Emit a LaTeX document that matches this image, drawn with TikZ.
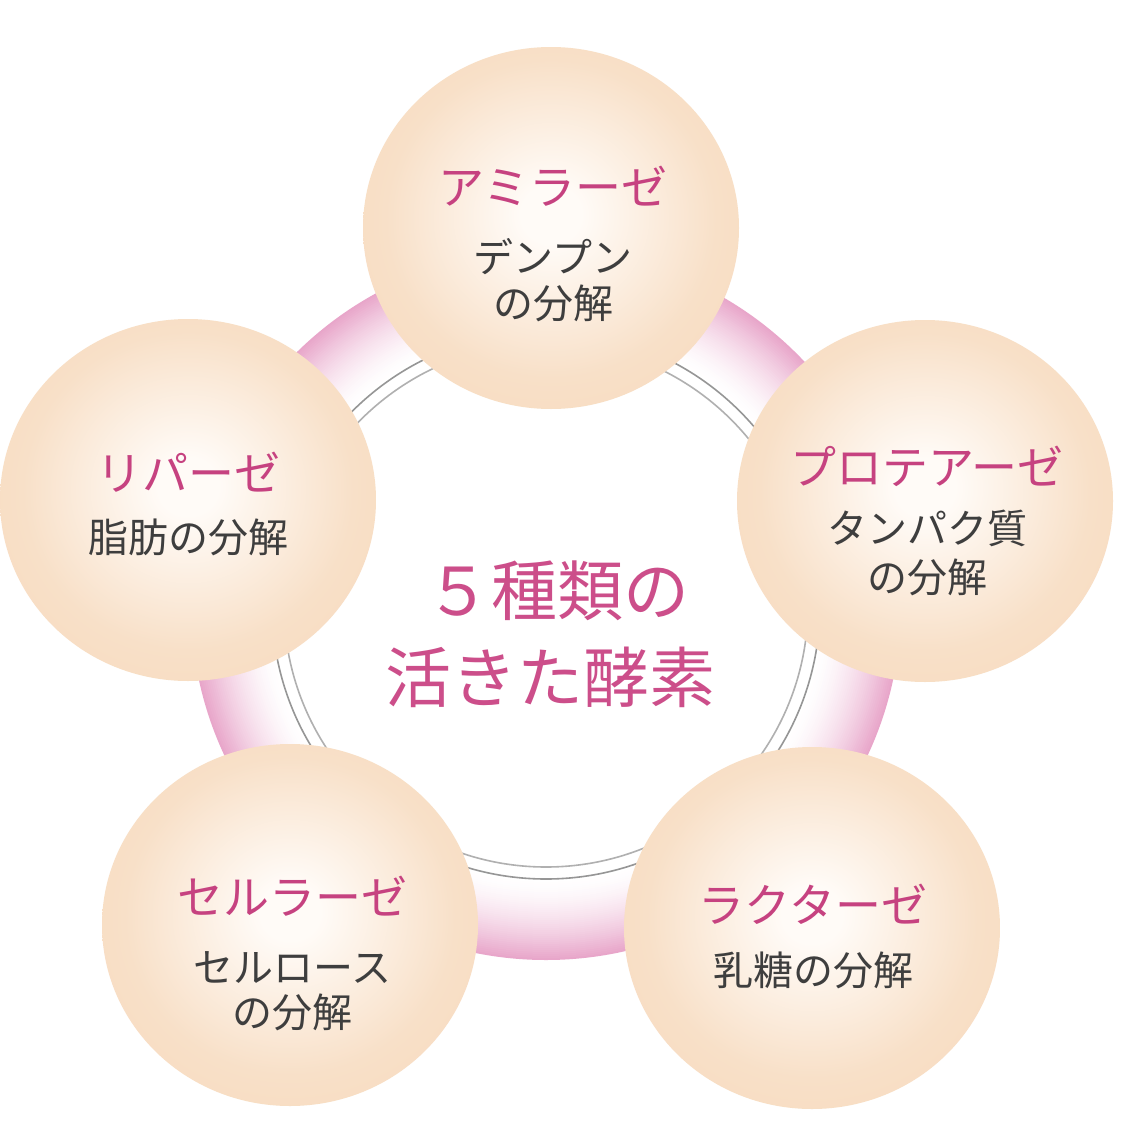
\documentclass[tikz,border=0pt]{standalone}
\usepackage{fontspec}
\newfontfamily\jp{Noto Sans CJK JP}
\usetikzlibrary{shapes.geometric}
\definecolor{peachedge}{RGB}{245,212,178}
\definecolor{peachmid}{RGB}{248,224,200}
\definecolor{peachcore}{RGB}{255,251,247}
\definecolor{ringpink}{RGB}{232,166,202}
\definecolor{titlepink}{RGB}{198,66,128}
\definecolor{centerpink}{RGB}{204,78,138}
\definecolor{bodygray}{RGB}{62,62,62}
\definecolor{ringgray}{RGB}{150,150,150}
\pgfdeclareradialshading{ball}{\pgfpoint{0bp}{2bp}}{color(0bp)=(peachcore); color(4bp)=(peachcore); color(22bp)=(peachmid); color(46bp)=(peachedge); color(60bp)=(peachedge)}
\tikzset{
  ballnode/.style={ellipse, minimum width=376pt, minimum height=362pt, inner sep=0pt, shade, shading=ball},
  titletext/.style={anchor=base, inner sep=0pt, text=titlepink, font=\jp\fontsize{46pt}{52pt}\selectfont},
  bodytext/.style={anchor=base, inner sep=0pt, text=bodygray, font=\jp\fontsize{40pt}{46pt}\selectfont},
  centertext/.style={anchor=base, inner sep=0pt, text=centerpink, font=\jp\fontsize{66pt}{80pt}\selectfont},
  grayline/.style={draw=ringgray, line width=1.6pt}
}
\begin{document}
\begin{tikzpicture}[x=1pt, y=-1pt]
\useasboundingbox[fill=white] (0,0) rectangle (1125,1143);
% ring: pink band fading inward
\coordinate (rc) at (546,605);
\foreach \i in {0,...,40} {
  \pgfmathsetmacro\rr{355-2*\i}
  \pgfmathsetmacro\pp{100*((40-\i)/40)^1.6}
  \fill[ringpink!\pp!white] (rc) circle[radius=\rr pt];
}
\fill[white] (rc) circle[radius=274pt];
\draw[grayline] (rc) circle[radius=274pt];
\draw[grayline, draw=ringgray!75] (rc) circle[radius=262pt];
% balls
\node[ballnode] (amy) at (551,228) {};
\node[ballnode] (pro) at (925,501) {};
\node[ballnode] (lip) at (188,500) {};
\node[ballnode] (cel) at (290,925) {};
\node[ballnode] (lac) at (812,928) {};
% texts
\node[titletext] (amyT) at (553,204.5) {アミラーゼ};
\node[bodytext] (amyB1) at (553,272) {デンプン};
\node[bodytext] (amyB2) at (553,318) {の分解};
\node[titletext] (lipT) at (188,490.5) {リパーゼ};
\node[bodytext] (lipB) at (188,552) {脂肪の分解};
\node[titletext] (proT) at (927,484.5) {プロテアーゼ};
\node[bodytext] (proB1) at (927,543) {タンパク質};
\node[bodytext] (proB2) at (927,592) {の分解};
\node[titletext] (celT) at (292,914.5) {セルラーゼ};
\node[bodytext] (celB1) at (292,982) {セルロース};
\node[bodytext] (celB2) at (292,1027) {の分解};
\node[titletext] (lacT) at (813,922.5) {ラクターゼ};
\node[bodytext] (lacB) at (813,985) {乳糖の分解};
\node[centertext] (c1) at (557,615) {５種類の};
\node[centertext] (c2) at (550,702) {活きた酵素};
\end{tikzpicture}
\end{document}
